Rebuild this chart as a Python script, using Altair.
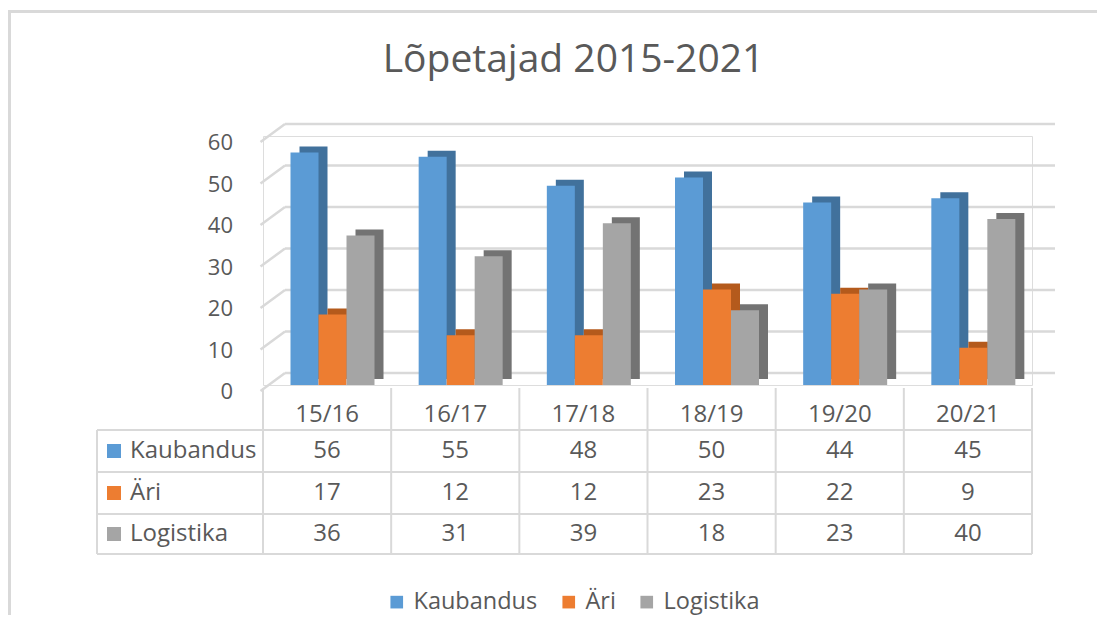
import altair as alt
import pandas as pd

# ---- data ----
title_text = "Lõpetajad 2015-2021"
categories = ["15/16", "16/17", "17/18", "18/19", "19/20", "20/21"]
series = ["Kaubandus", "Äri", "Logistika"]
kaubandus = [56, 55, 48, 50, 44, 45]
ari = [17, 12, 12, 23, 22, 9]
logistika = [36, 31, 39, 18, 23, 40]
y_ticks = [0, 10, 20, 30, 40, 50, 60]

# ---- styles ----
front_colors = ["#5b9bd5", "#ed7d31", "#a5a5a5"]
side_colors = ["#41719c", "#b45a1c", "#737373"]
FONT = "Open Sans"
TXT = "#595959"
GRID = "#d9d9d9"
W, H = 769, 249

rows = []
for s, vals in zip(series, [kaubandus, ari, logistika]):
    for c, v in zip(categories, vals):
        rows.append({"cat": c, "series": s, "value": v})
df = pd.DataFrame(rows)
ticks_df = pd.DataFrame({"tick": y_ticks})
cat_df = pd.DataFrame({"cat": categories})
one = pd.DataFrame({"a": [0]})

xscale = alt.Scale(domain=categories, paddingInner=0, paddingOuter=0)
yscale = alt.Scale(domain=[0, 60], nice=False, zero=True)
X = alt.X("cat:N", scale=xscale, axis=None, sort=categories)
Y = alt.Y("value:Q", scale=yscale, axis=None)

layers = []

# outer chart-area border (top and left visible)
layers.append(alt.Chart(one).mark_rule(color=GRID, strokeWidth=3).encode(
    x=alt.value(-254), x2=alt.value(845), y=alt.value(-124.5)))
layers.append(alt.Chart(one).mark_rule(color=GRID, strokeWidth=3).encode(
    x=alt.value(-253.5), y=alt.value(-126), y2=alt.value(500)))

# title
layers.append(alt.Chart(pd.DataFrame({"t": [title_text]})).mark_text(
    font=FONT, fontSize=39, color=TXT, align="center", baseline="alphabetic").encode(
    x=alt.value(310.5), y=alt.value(-64), text="t:N"))

# back-wall gridlines and floor diagonals
layers.append(alt.Chart(ticks_df).mark_rule(color=GRID, strokeWidth=2.5, yOffset=-12).encode(
    y=alt.Y("tick:Q", scale=yscale, axis=None), x=alt.value(22), x2=alt.value(792)))
layers.append(alt.Chart(ticks_df).mark_rule(color=GRID, strokeWidth=2.5, yOffset=6, y2Offset=-12).encode(
    y=alt.Y("tick:Q", scale=yscale, axis=None), y2="tick:Q", x=alt.value(-2.5), x2=alt.value(22)))

# y tick labels
layers.append(alt.Chart(ticks_df).mark_text(
    font=FONT, fontSize=22, color=TXT, align="right", baseline="alphabetic", yOffset=14).encode(
    y=alt.Y("tick:Q", scale=yscale, axis=None), x=alt.value(-30), text="tick:Q"))

# 3D depth blocks (side + top)
layers.append(alt.Chart(df).mark_bar(yOffset=-6, y2Offset=-6).encode(
    x=X,
    xOffset=alt.XOffset("series:N", sort=series,
                        scale=alt.Scale(domain=series, range=[36.5, 120.5], paddingInner=0, paddingOuter=0)),
    y=Y,
    color=alt.Color("series:N", scale=alt.Scale(domain=series, range=side_colors), legend=None)))

# front faces
layers.append(alt.Chart(df).mark_bar().encode(
    x=X,
    xOffset=alt.XOffset("series:N", sort=series,
                        scale=alt.Scale(domain=series, range=[27.5, 111.5], paddingInner=0, paddingOuter=0)),
    y=Y,
    color=alt.Color("series:N", scale=alt.Scale(domain=series, range=front_colors),
                    legend=alt.Legend(orient="none", legendX=122, legendY=454, direction="horizontal",
                                      title=None, symbolType="square", symbolSize=160,
                                      symbolStrokeWidth=0, labelFont=FONT, labelFontSize=23.5,
                                      labelColor=TXT, labelOffset=5, columnPadding=19, padding=0))))

# data table grid
layers.append(alt.Chart(cat_df).mark_rule(color=GRID, strokeWidth=2).encode(
    x=alt.X("cat:N", scale=xscale, bandPosition=0, axis=None), y=alt.value(252), y2=alt.value(418)))
layers.append(alt.Chart(pd.DataFrame({"cat": [categories[-1]]})).mark_rule(color=GRID, strokeWidth=2).encode(
    x=alt.X("cat:N", scale=xscale, bandPosition=1, axis=None), y=alt.value(252), y2=alt.value(418)))
for yy in [294, 336, 378, 418]:
    layers.append(alt.Chart(one).mark_rule(color=GRID, strokeWidth=2).encode(
        x=alt.value(-166), x2=alt.value(W), y=alt.value(yy)))
layers.append(alt.Chart(one).mark_rule(color=GRID, strokeWidth=2).encode(
    x=alt.value(-166), y=alt.value(294), y2=alt.value(418)))

# header labels
layers.append(alt.Chart(cat_df).mark_text(
    font=FONT, fontSize=24, color=TXT, align="center", baseline="alphabetic").encode(
    x=alt.X("cat:N", scale=xscale, axis=None), y=alt.value(286), text="cat:N"))

row_centers = [315, 357, 398]
for s, yc in zip(series, row_centers):
    layers.append(alt.Chart(df).transform_filter(alt.datum.series == s).mark_text(
        font=FONT, fontSize=24, color=TXT, align="center", baseline="alphabetic").encode(
        x=X, y=alt.value(yc + 7), text="value:Q"))
    sdf = pd.DataFrame({"series": [s]})
    layers.append(alt.Chart(sdf).mark_text(
        font=FONT, fontSize=24, color=TXT, align="left", baseline="alphabetic").encode(
        x=alt.value(-133), y=alt.value(yc + 7), text="series:N"))
    layers.append(alt.Chart(sdf).mark_square(size=196, opacity=1, filled=True).encode(
        x=alt.value(-149), y=alt.value(yc),
        color=alt.Color("series:N", scale=alt.Scale(domain=series, range=front_colors), legend=None)))

chart = alt.layer(*layers).resolve_scale(color="independent", xOffset="independent").properties(
    width=W, height=H,
    autosize=alt.AutoSizeParams(type="none"),
    padding={"left": 255, "top": 128, "right": 65, "bottom": 230},
).configure_view(stroke=None).configure(background="white")

chart.save("out.html", embed_options={"renderer": "svg", "actions": False})
